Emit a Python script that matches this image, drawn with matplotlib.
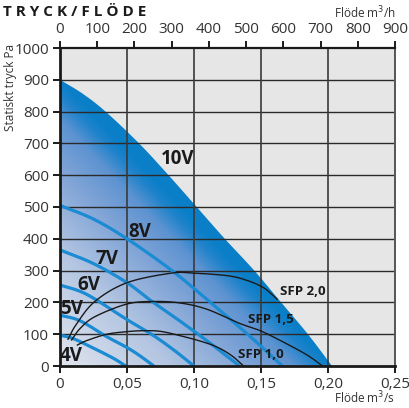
import matplotlib
matplotlib.use('Agg')
import matplotlib.pyplot as plt
import numpy as np
from matplotlib.colors import LinearSegmentedColormap
from matplotlib.patches import Polygon

plt.rcParams['font.family'] = ['Open Sans', 'DejaVu Sans']

# ---------------- data ----------------
# fan curves, flow in m3/s, static pressure in Pa
v10_q = [0, 0.017, 0.034, 0.059, 0.081, 0.102, 0.123, 0.145, 0.165, 0.185, 0.203]
v10_p = [900, 856, 800, 700, 600, 500, 400, 300, 200, 100, 0]
v8_q = [0, 0.025, 0.05, 0.083, 0.112, 0.14, 0.166]
v8_p = [505, 462, 400, 302, 201, 100, 0]
v7_q = [0, 0.025, 0.05, 0.068, 0.09, 0.112, 0.134]
v7_p = [365, 322, 262, 205, 140, 72, 0]
v6_q = [0, 0.02, 0.05, 0.07, 0.085, 0.10]
v6_p = [255, 225, 146, 95, 50, 0]
v5_q = [0, 0.015, 0.035, 0.05, 0.06, 0.07]
v5_p = [160, 142, 92, 58, 31, 0]
v4_q = [0, 0.01, 0.025, 0.035, 0.042, 0.049]
v4_p = [97, 86, 56, 35, 19, 0]

# SFP curves
sfp20_q = [0.006, 0.012, 0.026, 0.05, 0.083, 0.10, 0.125, 0.139, 0.152, 0.162]
sfp20_p = [84, 130, 203, 262, 292, 292, 284, 270, 246, 210]
sfp15_q = [0.0087, 0.015, 0.026, 0.05, 0.07, 0.09, 0.11, 0.134, 0.15, 0.17, 0.185, 0.196]
sfp15_p = [82, 118, 155, 195, 203, 198, 178, 134, 110, 68, 33, 0]
sfp10_q = [0.013, 0.02, 0.035, 0.05, 0.062, 0.075, 0.09, 0.105, 0.117, 0.128, 0.137]
sfp10_p = [66, 80, 100, 108, 111, 109, 95, 78, 60, 33, 0]

volt_labels = ['10V', '8V', '7V', '6V', '5V', '4V']
volt_label_q = [0.088, 0.0597, 0.0354, 0.0213, 0.0087, 0.0086]
volt_label_p = [651, 422, 336, 256, 178, 32]

sfp_labels = ['SFP 2,0', 'SFP 1,5', 'SFP 1,0']
sfp_label_q = [0.181, 0.157, 0.150]
sfp_label_p = [233, 145, 35]

x_ticks = [0, 0.05, 0.10, 0.15, 0.20, 0.25]
x_ticklabels = ['0', '0,05', '0,10', '0,15', '0,20', '0,25']
y_ticks = [0, 100, 200, 300, 400, 500, 600, 700, 800, 900, 1000]
top_ticks = [0, 100, 200, 300, 400, 500, 600, 700, 800, 900]


def smooth(xs, ys, n=24):
    """Catmull-Rom rendering path through the read points (display only)."""
    P = np.column_stack([xs, ys]).astype(float)
    P = P / np.array([0.25, 1000.0])
    ext = np.vstack([2 * P[0] - P[1], P, 2 * P[-1] - P[-2]])
    out = []
    t = np.linspace(0, 1, n, endpoint=False)[:, None]
    for i in range(1, len(ext) - 2):
        p0, p1, p2, p3 = ext[i - 1], ext[i], ext[i + 1], ext[i + 2]
        seg = 0.5 * ((2 * p1) + (-p0 + p2) * t + (2 * p0 - 5 * p1 + 4 * p2 - p3) * t ** 2
                     + (-p0 + 3 * p1 - 3 * p2 + p3) * t ** 3)
        out.append(seg)
    out.append(P[-1][None, :])
    S = np.vstack(out) * np.array([0.25, 1000.0])
    return S[:, 0], S[:, 1]


# ---------------- figure ----------------
W, H = 409, 408
fig = plt.figure(figsize=(W / 100, H / 100), dpi=100)
ax = fig.add_axes([60 / W, (H - 366) / H, 335 / W, 318 / H])
ax.set_facecolor('#e6e6e6')
ax.set_xlim(0, 0.25)
ax.set_ylim(0, 1000)

# gradient fill under 10V curve
cmap = LinearSegmentedColormap.from_list(
    'fill', [(0.0, '#e2e5ee'), (0.4, '#b4c6e2'), (0.7, '#7ea3d6'),
             (0.86, '#5d93d1'), (0.95, '#1f83cb'), (1.0, '#0a7fc8')])
gq = np.linspace(0, 0.25, 400)
gp = np.linspace(0, 1000, 400)
GQ, GP = np.meshgrid(gq, gp)
T = np.clip(GQ / 0.203 + GP / 900, 0, 1)
im = ax.imshow(T, extent=[0, 0.25, 0, 1000], origin='lower', aspect='auto',
               cmap=cmap, vmin=0, vmax=1, zorder=1, interpolation='bilinear')
sq, sp = smooth(v10_q, v10_p)
poly = Polygon(list(zip(sq, sp)) + [(0, 0)], closed=True,
               transform=ax.transData, facecolor='none', edgecolor='none')
ax.add_patch(poly)
im.set_clip_path(poly)

# grid
for yv in y_ticks[1:-1]:
    ax.axhline(yv, color='#2a2a2a', lw=1.0, zorder=2)
for xv in x_ticks[1:-1]:
    ax.axvline(xv, color='#3a3a3a', lw=1.2, zorder=2)

# voltage curves (10V is the edge of the filled area)
blue = '#1b8bd3'
for q, p in [(v8_q, v8_p), (v7_q, v7_p), (v6_q, v6_p), (v5_q, v5_p), (v4_q, v4_p)]:
    xq, yp = smooth(q, p)
    ax.plot(xq, yp, color=blue, lw=2.3, solid_capstyle='butt', zorder=3)

# SFP curves
for q, p in [(sfp20_q, sfp20_p), (sfp15_q, sfp15_p), (sfp10_q, sfp10_p)]:
    xq, yp = smooth(q, p)
    ax.plot(xq, yp, color='#1a1a1a', lw=1.0, zorder=4)

for lab, q, p in zip(volt_labels, volt_label_q, volt_label_p):
    ax.text(q, p, lab, fontsize=13.5, fontweight='bold', color='#1a1a1a',
            ha='center', va='center', zorder=5)
for lab, q, p in zip(sfp_labels, sfp_label_q, sfp_label_p):
    ax.text(q, p, lab, fontsize=9.5, fontweight='bold', color='#1a1a1a',
            ha='center', va='center', zorder=5)

# spines and ticks
for s in ['left', 'bottom']:
    ax.spines[s].set_linewidth(2.0)
    ax.spines[s].set_color('#1a1a1a')
ax.spines['top'].set_linewidth(1.6)
ax.spines['top'].set_color('#1a1a1a')
ax.spines['right'].set_linewidth(1.4)
ax.spines['right'].set_color('#555555')
for s in ax.spines.values():
    s.set_zorder(6)

ax.set_xticks(x_ticks)
ax.set_xticklabels(x_ticklabels)
ax.set_yticks(y_ticks)
ax.tick_params(axis='both', direction='out', length=5, width=1.4,
               color='#1a1a1a', labelsize=11, labelcolor='#333333', pad=3)

sec = ax.secondary_xaxis('top', functions=(lambda q: q * 3600, lambda h: h / 3600))
sec.set_xticks(top_ticks)
sec.tick_params(direction='out', length=5, width=1.4, color='#1a1a1a',
                labelsize=11, labelcolor='#333333', pad=3)
sec.spines['top'].set_visible(False)

# texts
fig.text(3 / W, 1 - 15.5 / H, 'T R Y C K / F L Ö D E', fontsize=11, fontweight='bold',
         color='#1a1a1a', ha='left', va='baseline')
fig.text(396 / W, 1 - 13 / H, 'Flöde m$^3$/h', fontsize=8.5, color='#333333',
         ha='right', va='center')
fig.text(395 / W, 1 - 398 / H, 'Flöde m$^3$/s', fontsize=8.5, color='#333333',
         ha='right', va='center')
fig.text(11 / W, 1 - 87 / H, 'Statiskt tryck Pa', fontsize=8.5, color='#333333',
         rotation=90, ha='center', va='center')

fig.savefig('out.png', dpi=100, facecolor='white')
